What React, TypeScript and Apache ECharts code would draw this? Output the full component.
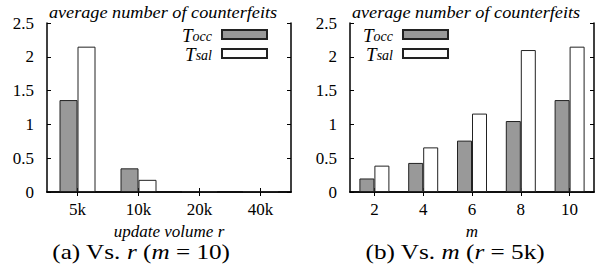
import { useEffect, useRef } from 'react';
import * as echarts from 'echarts';

const volumeCategories = ['5k', '10k', '20k', '40k'];
const volumeOcc = [1.36, 0.35, 0.01, 0.01];
const volumeSal = [2.15, 0.18, 0.01, 0.01];

const mCategories = ['2', '4', '6', '8', '10'];
const mOcc = [0.2, 0.43, 0.76, 1.05, 1.36];
const mSal = [0.39, 0.66, 1.16, 2.1, 2.15];

const yMin = 0;
const yMax = 2.5;
const yInterval = 0.5;

const seriesNames = ['Tocc', 'Tsal'];
const subscripts: Record<string, string> = { Tocc: 'occ', Tsal: 'sal' };

const FONT = 'Times New Roman, Times, Liberation Serif, serif';

export default function App() {
  const ref = useRef<HTMLDivElement>(null);

  useEffect(() => {
    document.body.style.margin = '0';
    const chart = echarts.init(ref.current!, null, { renderer: 'svg' });

    const grids = [
      { left: 47, top: 23, width: 244, height: 169 },
      { left: 350, top: 23, width: 244, height: 169 },
    ];

    const axisLine = { show: true, lineStyle: { color: '#000', width: 1.5 } };
    const tick = { show: true, inside: true, length: 4, alignWithLabel: true, lineStyle: { color: '#000', width: 1 } };

    const xAxes: any[] = [];
    const yAxes: any[] = [];
    const cats = [volumeCategories, mCategories];
    const names = ['update volume r', 'm'];
    for (let g = 0; g < 2; g++) {
      xAxes.push({
        type: 'category', gridIndex: g, data: cats[g], position: 'bottom',
        axisLine, axisTick: tick,
        axisLabel: { color: '#000', fontFamily: FONT, fontSize: 17, margin: 9 },
        name: names[g], nameLocation: 'middle', nameGap: 22,
        nameTextStyle: { color: '#000', fontFamily: FONT, fontSize: 17, fontStyle: 'italic' },
        splitLine: { show: false },
      });
      xAxes.push({
        type: 'category', gridIndex: g, data: cats[g], position: 'top',
        axisLine, axisTick: tick, axisLabel: { show: false }, splitLine: { show: false },
      });
      yAxes.push({
        type: 'value', gridIndex: g, min: yMin, max: yMax, interval: yInterval, position: 'left',
        axisLine, axisTick: { show: true, inside: true, length: 4, lineStyle: { color: '#000' } },
        axisLabel: { color: '#000', fontFamily: FONT, fontSize: 17, margin: 13 },
        splitLine: { show: false },
      });
      yAxes.push({
        type: 'value', gridIndex: g, min: yMin, max: yMax, interval: yInterval, position: 'right',
        axisLine, axisTick: { show: true, inside: true, length: 4, lineStyle: { color: '#000' } },
        axisLabel: { show: false }, splitLine: { show: false },
      });
    }

    const barStyle = (name: string) => ({
      color: name === 'Tocc' ? '#999999' : '#ffffff',
      borderColor: '#222',
      borderWidth: 1,
    });

    const series: any[] = [
      { name: 'Tocc', type: 'bar', xAxisIndex: 0, yAxisIndex: 0, data: volumeOcc, barWidth: 18, barGap: '0%', itemStyle: barStyle('Tocc') },
      { name: 'Tsal', type: 'bar', xAxisIndex: 0, yAxisIndex: 0, data: volumeSal, barWidth: 18, barGap: '0%', itemStyle: barStyle('Tsal') },
      { name: 'Tocc', type: 'bar', xAxisIndex: 2, yAxisIndex: 2, data: mOcc, barWidth: 15, barGap: '0%', itemStyle: barStyle('Tocc') },
      { name: 'Tsal', type: 'bar', xAxisIndex: 2, yAxisIndex: 2, data: mSal, barWidth: 15, barGap: '0%', itemStyle: barStyle('Tsal') },
    ];

    const legendText = {
      color: '#000',
      fontFamily: FONT,
      lineHeight: 17,
      padding: [0, 5, 0, 0],
      rich: {
        t: { fontFamily: FONT, fontSize: 19, fontStyle: 'italic', color: '#000', verticalAlign: 'top', lineHeight: 17 },
        s: { fontFamily: FONT, fontSize: 14, fontStyle: 'italic', color: '#000', verticalAlign: 'bottom', lineHeight: 17 },
      },
    };
    const legendBase = {
      orient: 'vertical', align: 'right', itemWidth: 45, itemHeight: 9, itemGap: 0, padding: 0,
      data: seriesNames, icon: 'rect', selectedMode: false,
      formatter: (n: string) => `{t|T}{s|${subscripts[n]}}`,
      textStyle: legendText,
    };

    const italic = { fontFamily: FONT, fontStyle: 'italic', fontSize: 16, fill: '#000' };
    const captionRich = {
      n: { fontFamily: FONT, fontSize: 20, fill: '#000' },
      i: { fontFamily: FONT, fontSize: 20, fontStyle: 'italic', fill: '#000' },
    };

    chart.setOption({
      animation: false,
      textStyle: { fontFamily: FONT },
      grid: grids,
      xAxis: xAxes,
      yAxis: yAxes,
      series,
      legend: [
        { ...legendBase, right: 337, top: 26 },
        { ...legendBase, left: 363, top: 26 },
      ],
      graphic: [
        { type: 'text', x: 163, y: 13, scaleX: 1.14, style: { ...italic, text: 'average number of counterfeits', align: 'center', verticalAlign: 'middle' } },
        { type: 'text', x: 466, y: 13, scaleX: 1.14, style: { ...italic, text: 'average number of counterfeits', align: 'center', verticalAlign: 'middle' } },
        { type: 'text', x: 141, y: 252, scaleX: 1.26, style: { text: '{n|(a) Vs. }{i|r}{n| (}{i|m}{n| = 10)}', rich: captionRich, align: 'center', verticalAlign: 'middle' } },
        { type: 'text', x: 455, y: 252, scaleX: 1.26, style: { text: '{n|(b) Vs. }{i|m}{n| (}{i|r}{n| = 5k)}', rich: captionRich, align: 'center', verticalAlign: 'middle' } },
      ],
    });

    return () => chart.dispose();
  }, []);

  return <div ref={ref} style={{ position: 'fixed', left: 0, top: 0, width: 605, height: 276, background: '#fff' }} />;
}
